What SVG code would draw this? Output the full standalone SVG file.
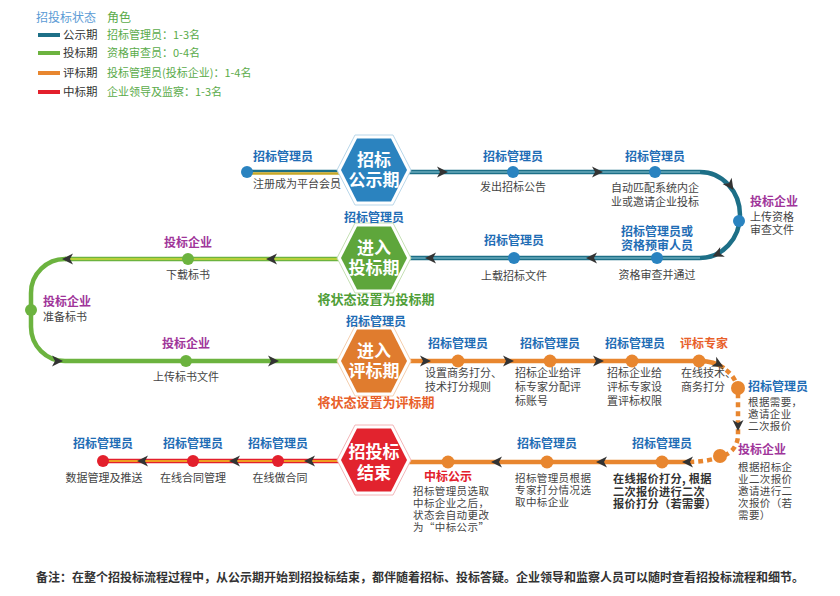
<svg xmlns="http://www.w3.org/2000/svg" xmlns:xlink="http://www.w3.org/1999/xlink" width="840" height="596" viewBox="0 0 840 596">
<defs>
<style>
text{font-family:"Noto Sans CJK SC","Noto Sans",sans-serif}
.lb{font-size:12px;font-weight:bold;fill:#1f6db5}
.pu{font-size:12px;font-weight:bold;fill:#a0359a}
.or{font-size:12px;font-weight:bold;fill:#e8602a}
.rd{font-size:12px;font-weight:bold;fill:#e3202c}
.ds{font-size:11px;fill:#444}
.dt{font-size:10.5px;fill:#444;letter-spacing:0.4px}
.dk{font-size:11.2px;font-weight:bold;fill:#333;letter-spacing:0.3px}
.hx{font-size:17px;font-weight:bold;fill:#fff;text-anchor:middle}
.c{text-anchor:middle}
.lg{font-size:11.5px;fill:#333}
.lr{font-size:11px;fill:#5aab4a}
.st{font-size:13px;font-weight:bold}
</style>
<path id="ah" d="M6,0 L-5,-5.5 L-2,0 L-5,5.5 Z" fill="#333"/>
<path id="hexo" d="M-37,0 L-19,-35 L19,-35 L37,0 L19,35 L-19,35 Z" fill="#fff"/>
<path id="hexi" d="M-33,0 L-17,-31.5 L17,-31.5 L33,0 L17,31.5 L-17,31.5 Z"/>
</defs>
<rect width="840" height="596" fill="#fff"/>

<g id="legend">
<text x="36" y="22" style="font-size:12px;fill:#5b9bd5">招投标状态</text>
<text x="107" y="22" style="font-size:12px;fill:#5aab4a">角色</text>
<rect x="38" y="33" width="22" height="4" fill="#1d6f87"/>
<text x="63" y="39" class="lg">公示期</text>
<text x="107" y="39" class="lr">招标管理员：1-3名</text>
<rect x="38" y="51" width="22" height="4" fill="#6cb33f"/>
<text x="63" y="57" class="lg">投标期</text>
<text x="107" y="57" class="lr">资格审查员：0-4名</text>
<rect x="38" y="71" width="22" height="4" fill="#e8862f"/>
<text x="63" y="77" class="lg">评标期</text>
<text x="107" y="77" class="lr">投标管理员(投标企业)：1-4名</text>
<rect x="38" y="90" width="22" height="4" fill="#e3202c"/>
<text x="63" y="96" class="lg">中标期</text>
<text x="107" y="96" class="lr">企业领导及监察：1-3名</text>
</g>

<g id="connectors" fill="none">
<line x1="247" y1="171" x2="342" y2="171" stroke="#1d6f87" stroke-width="2.5"/>
<line x1="247" y1="173.5" x2="342" y2="173.5" stroke="#c8a828" stroke-width="2.5"/>
<path d="M407,172 L700,172 A40,43 0 0 1 700,258 L407,258" stroke="#1d6f87" stroke-width="4.5"/>
<line x1="407" y1="172" x2="700" y2="172" stroke="#8ec7d6" stroke-width="1.2"/>
<line x1="407" y1="258" x2="700" y2="258" stroke="#8ec7d6" stroke-width="1.2"/>
<line x1="342" y1="259" x2="65" y2="259" stroke="#6cb33f" stroke-width="4.5"/>
<line x1="342" y1="259" x2="65" y2="259" stroke="#d2d83a" stroke-width="1.5"/>
<path d="M66,259 A34,34 0 0 0 31,293 L31,327 A34,34 0 0 0 65,361 L341,361" stroke="#6cb33f" stroke-width="4.5"/>
<path d="M407,361 L700,361 Q714,361 724,368" stroke="#e8862f" stroke-width="4.5"/>
<path d="M726,370 Q738,379 738,394 L738,436 Q737,452 720,457 Q706,462 688,462" stroke="#e8862f" stroke-width="4.5" stroke-dasharray="5 4"/>
<line x1="688" y1="462" x2="408" y2="462" stroke="#e8862f" stroke-width="4.5"/>
<line x1="342" y1="461" x2="103" y2="461" stroke="#e3202c" stroke-width="4.5"/>
<line x1="342" y1="461" x2="103" y2="461" stroke="#f2c81c" stroke-width="1.5"/>
<use xlink:href="#ah" transform="translate(442,172)"/>
<use xlink:href="#ah" transform="translate(597,172)"/>
<use xlink:href="#ah" transform="translate(730,185) rotate(55)"/>
<use xlink:href="#ah" transform="translate(718,254) rotate(155)"/>
<use xlink:href="#ah" transform="translate(592,258) rotate(180)"/>
<use xlink:href="#ah" transform="translate(431,258) rotate(180)"/>
<use xlink:href="#ah" transform="translate(272,259) rotate(180)"/>
<use xlink:href="#ah" transform="translate(68,259) rotate(180)"/>
<use xlink:href="#ah" transform="translate(57,361)"/>
<use xlink:href="#ah" transform="translate(273,361)"/>
<use xlink:href="#ah" transform="translate(425,361)"/>
<use xlink:href="#ah" transform="translate(508,361)"/>
<use xlink:href="#ah" transform="translate(598,361)"/>
<use xlink:href="#ah" transform="translate(718,364) rotate(28)"/>
<use xlink:href="#ah" transform="translate(738,425) rotate(90)"/>
<use xlink:href="#ah" transform="translate(688,462) rotate(180)"/>
<use xlink:href="#ah" transform="translate(602,462) rotate(180)"/>
<use xlink:href="#ah" transform="translate(497,462) rotate(180)"/>
<use xlink:href="#ah" transform="translate(310,461) rotate(180)"/>
<use xlink:href="#ah" transform="translate(235,461) rotate(180)"/>
<use xlink:href="#ah" transform="translate(143,461) rotate(180)"/>
</g>

<g id="h1">
<use xlink:href="#hexo" transform="translate(374,170)" stroke="#b9d7ea" stroke-width="1"/>
<use xlink:href="#hexi" transform="translate(374,170)" fill="#2b83bf"/>
<text x="374" y="166" class="hx">招标</text>
<text x="374" y="186" class="hx">公示期</text>
</g>
<g id="h2">
<use xlink:href="#hexo" transform="translate(374,258)" stroke="#c5e0b4" stroke-width="1"/>
<use xlink:href="#hexi" transform="translate(374,258)" fill="#5ea63b"/>
<text x="374" y="254" class="hx">进入</text>
<text x="374" y="274" class="hx">投标期</text>
</g>
<g id="h3">
<use xlink:href="#hexo" transform="translate(374,361)" stroke="#f5cfae" stroke-width="1"/>
<use xlink:href="#hexi" transform="translate(374,361)" fill="#e07c2e"/>
<text x="374" y="357" class="hx">进入</text>
<text x="374" y="377" class="hx">评标期</text>
</g>
<g id="h4">
<use xlink:href="#hexo" transform="translate(374,460)" stroke="#f3b6b8" stroke-width="1"/>
<use xlink:href="#hexi" transform="translate(374,460)" fill="#e2232e"/>
<text x="374" y="458" class="hx">招投标</text>
<text x="374" y="479" class="hx">结束</text>
</g>

<g id="status-labels">
<text x="374" y="222" class="lb c">招标管理员</text>
<text x="376" y="304" class="c st" style="fill:#4f9e37">将状态设置为投标期</text>
<text x="376" y="326" class="lb c">招标管理员</text>
<text x="376" y="407" class="c st" style="fill:#e8602a">将状态设置为评标期</text>
</g>

<g id="n-register">
<circle cx="247" cy="172" r="6" fill="#2a83c0"/>
<text x="253" y="161" class="lb">招标管理员</text>
<text x="253" y="188" class="ds">注册成为平台会员</text>
</g>
<g id="n-announce">
<circle cx="513" cy="172" r="6" fill="#2a83c0"/>
<text x="513" y="161" class="lb c">招标管理员</text>
<text x="513" y="191" class="ds c">发出招标公告</text>
</g>
<g id="n-match">
<circle cx="655" cy="172" r="6" fill="#2a83c0"/>
<text x="655" y="161" class="lb c">招标管理员</text>
<text x="655" y="192" class="ds c">自动匹配系统内企</text>
<text x="655" y="206" class="ds c">业或邀请企业投标</text>
</g>
<g id="n-upload-qual">
<circle cx="739" cy="221" r="6" fill="#2a83c0"/>
<text x="750" y="206" class="pu">投标企业</text>
<text x="750" y="221" class="ds">上传资格</text>
<text x="750" y="234" class="ds">审查文件</text>
</g>
<g id="n-review">
<circle cx="657" cy="258" r="6" fill="#2a83c0"/>
<text x="657" y="236" class="lb c">招标管理员或</text>
<text x="657" y="250" class="lb c">资格预审人员</text>
<text x="657" y="279" class="ds c">资格审查并通过</text>
</g>
<g id="n-upload-doc">
<circle cx="514" cy="258" r="6" fill="#2a83c0"/>
<text x="514" y="245" class="lb c">招标管理员</text>
<text x="514" y="280" class="ds c">上载招标文件</text>
</g>
<g id="n-download">
<circle cx="188" cy="259" r="6" fill="#6cb33f"/>
<text x="188" y="247" class="pu c">投标企业</text>
<text x="188" y="279" class="ds c">下载标书</text>
</g>
<g id="n-prepare">
<circle cx="31" cy="310" r="6" fill="#6cb33f"/>
<text x="43" y="306" class="pu">投标企业</text>
<text x="43" y="321" class="ds">准备标书</text>
</g>
<g id="n-submit">
<circle cx="186" cy="361" r="6" fill="#6cb33f"/>
<text x="186" y="348" class="pu c">投标企业</text>
<text x="186" y="381" class="ds c">上传标书文件</text>
</g>
<g id="n-rules">
<circle cx="458" cy="361" r="6.5" fill="#e8862f"/>
<text x="458" y="348" class="lb c">招标管理员</text>
<text x="425" y="377" class="ds">设置商务打分、</text>
<text x="425" y="391" class="ds">技术打分规则</text>
</g>
<g id="n-accounts">
<circle cx="550" cy="361" r="6.5" fill="#e8862f"/>
<text x="550" y="348" class="lb c">招标管理员</text>
<text x="515" y="377" class="ds">招标企业给评</text>
<text x="515" y="391" class="ds">标专家分配评</text>
<text x="515" y="405" class="ds">标账号</text>
</g>
<g id="n-permissions">
<circle cx="632" cy="361" r="6.5" fill="#e8862f"/>
<text x="635" y="348" class="lb c">招标管理员</text>
<text x="607" y="377" class="ds">招标企业给</text>
<text x="607" y="391" class="ds">评标专家设</text>
<text x="607" y="405" class="ds">置评标权限</text>
</g>
<g id="n-scoring">
<circle cx="699" cy="361" r="6.5" fill="#e8862f"/>
<text x="704" y="348" class="or c">评标专家</text>
<text x="681" y="377" class="ds">在线技术、</text>
<text x="681" y="391" class="ds">商务打分</text>
</g>
<g id="n-invite">
<circle cx="738" cy="388" r="7" fill="#e8862f"/>
<text x="748" y="391" class="lb">招标管理员</text>
<text x="748" y="406" class="dt">根据需要，</text>
<text x="748" y="418" class="dt">邀请企业</text>
<text x="748" y="430" class="dt">二次报价</text>
</g>
<g id="n-requote">
<circle cx="720" cy="456" r="7" fill="#e8862f"/>
<text x="738" y="454" class="pu">投标企业</text>
<text x="738" y="471" class="dt">根据招标企</text>
<text x="738" y="483" class="dt">业二次报价</text>
<text x="738" y="495" class="dt">邀请进行二</text>
<text x="738" y="507" class="dt">次报价（若</text>
<text x="738" y="519" class="dt">需要）</text>
</g>
<g id="n-online-quote">
<circle cx="662" cy="462" r="6.5" fill="#e8862f"/>
<text x="662" y="448" class="lb c">招标管理员</text>
<text x="613" y="483" class="dk">在线报价打分, 根据</text>
<text x="613" y="495.5" class="dk">二次报价进行二次</text>
<text x="613" y="508" class="dk">报价打分（若需要）</text>
</g>
<g id="n-select">
<circle cx="547" cy="462" r="6.5" fill="#e8862f"/>
<text x="547" y="448" class="lb c">招标管理员</text>
<text x="515" y="482" class="dt">招标管理员根据</text>
<text x="515" y="494" class="dt">专家打分情况选</text>
<text x="515" y="506" class="dt">取中标企业</text>
</g>
<g id="n-publicity">
<circle cx="448" cy="462" r="6.5" fill="#e8862f"/>
<text x="448" y="481" class="rd c">中标公示</text>
<text x="413" y="495" class="dt">招标管理员选取</text>
<text x="413" y="507" class="dt">中标企业之后，</text>
<text x="413" y="519" class="dt">状态会自动更改</text>
<text x="413" y="531" class="dt">为“中标公示”</text>
</g>
<g id="n-contract">
<circle cx="278" cy="461" r="6" fill="#e3202c"/>
<text x="278" y="448" class="lb c">招标管理员</text>
<text x="280" y="482" class="ds c">在线做合同</text>
</g>
<g id="n-contract-mgmt">
<circle cx="193" cy="461" r="6" fill="#e3202c"/>
<text x="193" y="448" class="lb c">招标管理员</text>
<text x="193" y="482" class="ds c">在线合同管理</text>
</g>
<g id="n-data">
<circle cx="103" cy="461" r="6" fill="#e3202c"/>
<text x="103" y="448" class="lb c">招标管理员</text>
<text x="104" y="482" class="ds c">数据管理及推送</text>
</g>

<text x="36" y="582" style="font-size:12px;font-weight:bold;fill:#333">备注：在整个招投标流程过程中，从公示期开始到招投标结束，都伴随着招标、投标答疑。企业领导和监察人员可以随时查看招投标流程和细节。</text>
</svg>
